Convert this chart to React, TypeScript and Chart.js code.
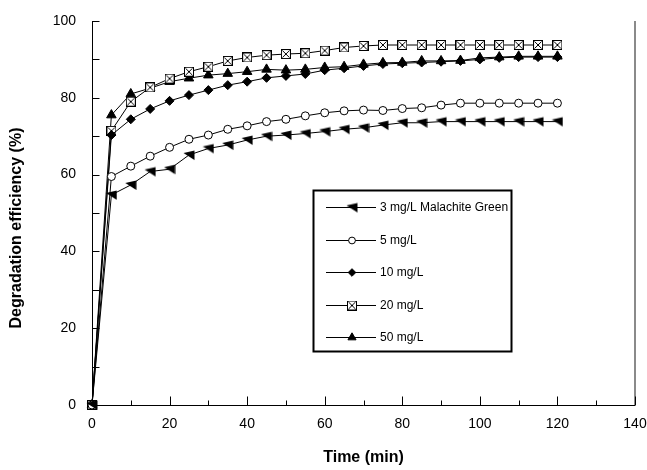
import React, { useEffect, useRef } from 'react';
import { Chart, registerables } from 'chart.js';
import { drawPoint } from 'chart.js/helpers';

Chart.register(...registerables);

// ---------- data ----------
const times = [0, 5, 10, 15, 20, 25, 30, 35, 40, 45, 50, 55, 60, 65, 70, 75, 80, 85, 90, 95, 100, 105, 110, 115, 120];

const mg3 = [0, 54.7, 57.3, 60.8, 61.4, 65.1, 66.8, 67.7, 69.0, 70.0, 70.3, 70.7, 71.2, 71.8, 72.2, 72.9, 73.5, 73.5, 73.8, 73.8, 73.8, 73.8, 73.8, 73.8, 73.8];
const mg5 = [0, 59.5, 62.2, 64.8, 67.1, 69.2, 70.3, 71.8, 72.7, 73.8, 74.4, 75.3, 76.1, 76.6, 76.8, 76.7, 77.2, 77.4, 78.1, 78.6, 78.6, 78.6, 78.6, 78.6, 78.6];
const mg10 = [0, 70.3, 74.4, 77.1, 79.2, 80.7, 82.0, 83.3, 84.2, 85.2, 85.7, 86.2, 87.2, 87.7, 88.3, 88.8, 89.0, 89.2, 89.4, 89.6, 90.0, 90.4, 90.6, 90.6, 90.6];
const mg20 = [0, 71.4, 79.0, 82.7, 85.0, 86.8, 88.1, 89.6, 90.5, 91.1, 91.4, 91.6, 92.3, 93.1, 93.5, 93.75, 93.75, 93.75, 93.75, 93.75, 93.75, 93.75, 93.75, 93.75, 93.75];
const mg50 = [0, 75.5, 81.0, 82.5, 84.2, 85.1, 85.9, 86.3, 86.8, 87.4, 87.2, 87.4, 87.9, 88.1, 88.7, 89.1, 89.2, 89.6, 89.6, 89.7, 90.4, 90.6, 90.8, 90.8, 90.8];

const seriesLabels = ['3 mg/L Malachite Green', '5 mg/L', '10 mg/L', '20 mg/L', '50 mg/L'];

const xTickValues = [0, 20, 40, 60, 80, 100, 120, 140];
const yTickValues = [0, 20, 40, 60, 80, 100];

const xTitle = 'Time (min)';
const yTitle = 'Degradation efficiency (%)';

const FONT = '"Liberation Sans", Arial, Helvetica, sans-serif';

// ---------- custom markers ----------
function makeCanvas(size: number, draw: (ctx: CanvasRenderingContext2D, s: number) => void) {
  const c = document.createElement('canvas');
  c.width = size;
  c.height = size;
  const ctx = c.getContext('2d')!;
  draw(ctx, size);
  return c;
}

function flagMarker() {
  return makeCanvas(12, (ctx) => {
    ctx.fillStyle = '#000';
    ctx.beginPath();
    ctx.moveTo(0.5, 4);
    ctx.lineTo(11.5, 1.5);
    ctx.lineTo(11.5, 11);
    ctx.closePath();
    ctx.fill();
  });
}

function boxXMarker() {
  return makeCanvas(10, (ctx, s) => {
    ctx.fillStyle = '#fff';
    ctx.fillRect(0, 0, s, s);
    ctx.strokeStyle = '#000';
    ctx.lineWidth = 1;
    ctx.strokeRect(0.5, 0.5, s - 1, s - 1);
    ctx.beginPath();
    ctx.moveTo(1.5, 1.5);
    ctx.lineTo(s - 1.5, s - 1.5);
    ctx.moveTo(s - 1.5, 1.5);
    ctx.lineTo(1.5, s - 1.5);
    ctx.stroke();
  });
}

const App = () => {
  const ref = useRef<HTMLCanvasElement | null>(null);

  useEffect(() => {
    const canvas = ref.current;
    if (!canvas) return;

    const flag = flagMarker();
    const boxX = boxXMarker();

    const mk = (vals: number[]) => times.map((t, i) => ({ x: t, y: vals[i] }));

    const datasets: any[] = [
      { label: seriesLabels[0], data: mk(mg3), pointStyle: flag, pointRadius: 5, backgroundColor: '#000', borderColor: '#000' },
      { label: seriesLabels[1], data: mk(mg5), pointStyle: 'circle', pointRadius: 4, backgroundColor: '#fff', borderColor: '#000' },
      { label: seriesLabels[2], data: mk(mg10), pointStyle: 'rectRot', pointRadius: 4.5, backgroundColor: '#000', borderColor: '#000' },
      { label: seriesLabels[3], data: mk(mg20), pointStyle: boxX, pointRadius: 5, backgroundColor: '#fff', borderColor: '#000' },
      { label: seriesLabels[4], data: mk(mg50), pointStyle: 'triangle', pointRadius: 5.5, backgroundColor: '#000', borderColor: '#000' },
    ].map((d) => ({
      ...d,
      showLine: true,
      borderWidth: 1,
      pointBorderWidth: 1,
      pointBackgroundColor: d.backgroundColor,
      pointBorderColor: '#000',
      tension: 0,
      clip: false,
    }));

    const decor = {
      id: 'decor',
      beforeDatasetsDraw(chart: any) {
        const { ctx, chartArea: a, scales } = chart;
        const x = scales.x;
        const y = scales.y;
        const line = (x1: number, y1: number, x2: number, y2: number) => {
          ctx.beginPath();
          ctx.moveTo(x1, y1);
          ctx.lineTo(x2, y2);
          ctx.stroke();
        };
        ctx.save();
        // right frame (grey)
        ctx.strokeStyle = '#8a8a8a';
        ctx.lineWidth = 2;
        line(a.right, a.top, a.right, a.bottom);
        // axes
        ctx.strokeStyle = '#000';
        ctx.lineWidth = 1;
        const lx = Math.round(a.left) + 0.5;
        const by = Math.round(a.bottom) + 0.5;
        line(lx, a.top, lx, by);
        line(lx, by, a.right, by);
        // y ticks (major + minor), inside
        for (let v = 0; v <= 100; v += 10) {
          const py = Math.round(y.getPixelForValue(v)) + 0.5;
          line(lx, py, lx + 7, py);
        }
        // x ticks, inside
        for (let v = 0; v <= 140; v += 10) {
          const px = Math.round(x.getPixelForValue(v)) + 0.5;
          const len = v % 20 === 0 ? 9 : 5;
          line(px, by, px, by - len);
        }
        ctx.restore();
      },
      afterDraw(chart: any) {
        const { ctx, chartArea: a } = chart;
        ctx.save();
        // axis titles
        ctx.fillStyle = '#000';
        ctx.font = `bold 16px ${FONT}`;
        ctx.textAlign = 'center';
        ctx.textBaseline = 'middle';
        ctx.fillText(xTitle, (a.left + a.right) / 2, 458);
        ctx.save();
        ctx.translate(17, 228);
        ctx.rotate(-Math.PI / 2);
        ctx.fillText(yTitle, 0, 0);
        ctx.restore();

        // legend
        const bx = 313.5, byy = 190.5, bw = 198, bh = 161;
        ctx.fillStyle = '#fff';
        ctx.fillRect(bx, byy, bw, bh);
        ctx.strokeStyle = '#000';
        ctx.lineWidth = 2;
        ctx.strokeRect(bx, byy, bw, bh);
        ctx.font = `12px ${FONT}`;
        ctx.textAlign = 'left';
        ctx.textBaseline = 'middle';
        chart.data.datasets.forEach((ds: any, i: number) => {
          const cy = Math.round(207 + i * 32.5) + 0.5;
          ctx.strokeStyle = '#000';
          ctx.lineWidth = 1;
          ctx.beginPath();
          ctx.moveTo(326, cy);
          ctx.lineTo(376, cy);
          ctx.stroke();
          ctx.fillStyle = ds.backgroundColor;
          ctx.strokeStyle = '#000';
          drawPoint(ctx, {
            pointStyle: ds.pointStyle,
            radius: ds.pointRadius * 0.85,
            rotation: 0,
            borderWidth: 1,
          } as any, 352, cy);
          ctx.fillStyle = '#000';
          ctx.fillText(ds.label, 380, cy + 0.5);
        });
        ctx.restore();
      },
    };

    const chart = new Chart(canvas, {
      type: 'scatter',
      data: { datasets },
      options: {
        responsive: false,
        animation: false,
        events: [],
        layout: { padding: { top: 21, right: 12, left: 0, bottom: 0 }, autoPadding: false },
        plugins: { legend: { display: false }, tooltip: { enabled: false }, title: { display: false } },
        scales: {
          x: {
            type: 'linear',
            min: 0,
            max: 140,
            afterBuildTicks: (s: any) => { s.ticks = xTickValues.map((v) => ({ value: v })); },
            afterFit: (s: any) => { s.height = 65; s.paddingLeft = 0; s.paddingRight = 0; },
            ticks: { color: '#000', font: { family: FONT, size: 14 }, padding: 11, maxRotation: 0, autoSkip: false },
            grid: { display: false, drawTicks: false },
            border: { display: false },
          },
          y: {
            type: 'linear',
            min: 0,
            max: 100,
            afterBuildTicks: (s: any) => { s.ticks = yTickValues.map((v) => ({ value: v })); },
            afterFit: (s: any) => { s.width = 92; s.paddingTop = 0; s.paddingBottom = 0; },
            ticks: { color: '#000', font: { family: FONT, size: 14 }, padding: 16, autoSkip: false },
            grid: { display: false, drawTicks: false },
            border: { display: false },
          },
        },
      },
      plugins: [decor],
    });

    return () => chart.destroy();
  }, []);

  return (
    <div style={{ position: 'fixed', left: 0, top: 0, width: 647, height: 470, background: '#fff' }}>
      <canvas ref={ref} width={647} height={470} style={{ display: 'block', width: 647, height: 470 }} />
    </div>
  );
};

export default App;
